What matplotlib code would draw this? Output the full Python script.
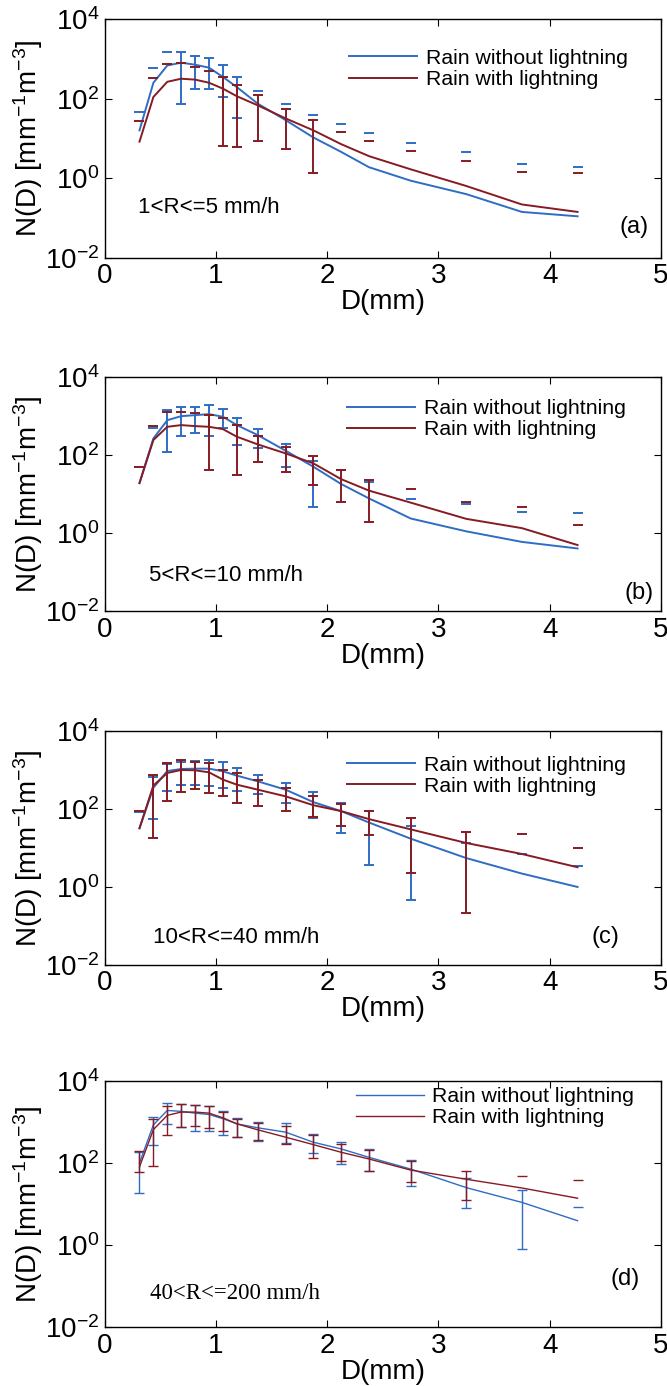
import numpy as np
import matplotlib.pyplot as plt

plt.rcParams["font.family"] = "Liberation Sans"
plt.rcParams["mathtext.fontset"] = "custom"
plt.rcParams["mathtext.rm"] = "Liberation Sans"

nan = np.nan

# drop diameter bins (mm)
D = [0.3125, 0.4375, 0.5625, 0.6875, 0.8125, 0.9375, 1.0625, 1.1875, 1.375,
     1.625, 1.875, 2.125, 2.375, 2.75, 3.25, 3.75, 4.25]

# (a) 1<R<=5 mm/h
a_no = [16, 250, 680, 800, 710, 600, 350, 195, 75, 29, 10.6, 4.6, 1.9, 0.87, 0.4, 0.143, 0.111]
a_no_hi = [45, 600, 1520, 1520, 1170, 1060, 680, 350, 160, 72, 38, 23, 14, 7.8, 4.6, 2.26, 1.97]
a_no_lo = [nan, nan, nan, 75, 178, 171, 110, 32, nan, nan, nan, nan, nan, nan, nan, nan, nan]
a_li = [8.3, 110, 265, 316, 300, 251, 178, 115, 68, 32, 16, 7.2, 3.6, 1.68, 0.64, 0.22, 0.143]
a_li_hi = [27, 330, 724, 780, 620, 492, 348, 224, 121, 56, 29, 14.7, 8.6, 4.9, 2.7, 1.45, 1.36]
a_li_lo = [nan, nan, nan, nan, nan, nan, 6.6, 6.0, 8.6, 5.3, 1.33, nan, nan, nan, nan, nan, nan]

# (b) 5<R<=10 mm/h
b_no = [19, 266, 780, 990, 1050, 1114, 955, 584, 324, 129, 50, 18, 7.7, 2.35, 1.1, 0.59, 0.4]
b_no_hi = [nan, 480, 1410, 1660, 1710, 1900, 1550, 900, 452, 191, 70, 40, 20, 7.3, 5.5, 3.5, 3.3]
b_no_lo = [nan, nan, 122, 311, 357, 300, 480, 180, 148, 48, 4.5, nan, nan, nan, nan, nan, nan]
b_li = [19, 242, 528, 584, 550, 528, 460, 294, 187, 110, 61, 24, 12.2, 6.0, 2.3, 1.33, 0.49]
b_li_hi = [50, 550, 1230, 1270, 1160, 1050, 900, 584, 311, 157, 94, 41, 23, 13.2, 6.3, 4.7, 1.58]
b_li_lo = [nan, nan, nan, nan, nan, 41, nan, 30, 68, 36, 17, 6.3, 1.87, nan, nan, nan, nan]

# (c) 10<R<=40 mm/h
c_no = [32, 350, 940, 1060, 1080, 1080, 925, 716, 512, 313, 150, 88, 45, 17.3, 5.5, 2.2, 1.0]
c_no_hi = [82, 660, 1400, 1600, 1730, 1840, 1570, 1120, 760, 465, 280, 140, 87, 36, 13.4, 7.0, 3.4]
c_no_lo = [nan, 55, 284, 420, 400, 380, 345, 284, 243, 142, 60, 24, 3.7, 0.47, nan, nan, nan]
c_li = [32, 400, 838, 1000, 980, 870, 565, 420, 313, 211, 125, 88, 55, 30, 13.4, 7.0, 3.2]
c_li_hi = [88, 760, 1520, 1770, 1600, 1520, 1020, 835, 565, 345, 210, 137, 91, 59, 25.8, 23, 9.9]
c_li_lo = [nan, 18, 157, 273, 325, 257, 211, 142, 117, 87, 61, 36, 21, 2.3, 0.22, nan, nan]

# (d) 40<R<=200 mm/h
d_no = [100, 850, 1910, 1810, 1640, 1520, 1200, 900, 720, 565, 320, 220, 137, 71, 25, 10.9, 3.9]
d_no_hi = [180, 1310, 2960, 2800, 2600, 2500, 1800, 1250, 980, 935, 512, 333, 220, 120, 42, 22, 8.3]
d_no_lo = [18.4, 280, 870, 760, 585, 585, 485, 430, 350, 300, 172, 95, 62, 27, 7.9, 0.78, nan]
d_li = [80, 650, 1450, 1740, 1740, 1640, 1260, 900, 643, 426, 280, 182, 125, 67, 40, 24.5, 13.8]
d_li_hi = [200, 1200, 2450, 2790, 2530, 2450, 1740, 1200, 955, 775, 468, 292, 210, 114, 65, 49, 39]
d_li_lo = [60, 86, 468, 745, 775, 720, 597, 426, 365, 292, 133, 114, 62, 34, 12.4, nan, nan]

rain_labels = ["1<R<=5 mm/h", "5<R<=10 mm/h", "10<R<=40 mm/h", "40<R<=200 mm/h"]
panel_tags = ["(a)", "(b)", "(c)", "(d)"]

BLUE = "#2f6cc4"
RED = "#861b24"

panels = [
    (a_no, a_no_hi, a_no_lo, a_li, a_li_hi, a_li_lo),
    (b_no, b_no_hi, b_no_lo, b_li, b_li_hi, b_li_lo),
    (c_no, c_no_hi, c_no_lo, c_li, c_li_hi, c_li_lo),
    (d_no, d_no_hi, d_no_lo, d_li, d_li_hi, d_li_lo),
]

# axes boxes in figure fractions [left, bottom, width, height]
boxes = [
    [0.157, 0.8139, 0.834, 0.1724],
    [0.157, 0.5592, 0.834, 0.1688],
    [0.157, 0.3038, 0.834, 0.1688],
    [0.157, 0.0426, 0.834, 0.1775],
]
text_pos = [(0.30, 0.19), (0.40, 0.083), (0.43, 0.05), (0.41, 0.066)]
tag_pos = [(4.76, 0.059), (4.80, 0.029), (4.50, 0.052), (4.68, 0.15)]
leg_anchor = [(0.44, 0.875), (0.436, 0.905), (0.436, 0.895), (0.451, 0.975)]


def draw_bars(ax, x, hi, lo, color, lw):
    x = np.asarray(x)
    hi = np.asarray(hi, float)
    lo = np.asarray(lo, float)
    full = ~np.isnan(hi) & ~np.isnan(lo)
    ax.vlines(x[full], lo[full], hi[full], color=color, lw=lw)
    ax.plot(x, hi, ls="none", marker="_", ms=7, mew=lw, color=color)
    ax.plot(x, lo, ls="none", marker="_", ms=7, mew=lw, color=color)


fig = plt.figure(figsize=(6.67, 13.86), dpi=100)

for i, (no, no_hi, no_lo, li, li_hi, li_lo) in enumerate(panels):
    ax = fig.add_axes(boxes[i])
    lw = 1.0 if i == 3 else 1.4
    ax.plot(D, no, color=BLUE, lw=lw, label="Rain without lightning")
    draw_bars(ax, D, no_hi, no_lo, BLUE, lw)
    ax.plot(D, li, color=RED, lw=lw, label="Rain with lightning")
    draw_bars(ax, D, li_hi, li_lo, RED, lw)

    ax.set_yscale("log")
    ax.set_xlim(0, 5)
    ax.set_ylim(1e-2, 1e4)
    ax.set_xticks([0, 1, 2, 3, 4, 5])
    ax.set_yticks([1e-2, 1, 1e2, 1e4])
    ax.set_yticklabels([r"$\mathregular{10^{-2}}$", r"$\mathregular{10^{0}}$",
                        r"$\mathregular{10^{2}}$", r"$\mathregular{10^{4}}$"])
    ax.minorticks_off()
    ax.tick_params(direction="in", top=True, right=True, length=5,
                   labelsize=20, pad=4)
    for s in ax.spines.values():
        s.set_linewidth(1.0)

    ax.set_xlabel("D(mm)", fontsize=20, labelpad=0)
    ax.set_ylabel(r"N(D) [mm$\mathregular{^{-1}}$m$\mathregular{^{-3}}$]",
                  fontsize=20, labelpad=0)

    if i == 3:
        ax.text(*text_pos[i], rain_labels[i], fontsize=16.5,
                family="Liberation Serif", va="center")
    else:
        ax.text(*text_pos[i], rain_labels[i], fontsize=16, va="center")
    ax.text(*tag_pos[i], panel_tags[i], fontsize=17, ha="center", va="center")

    ax.legend(loc="upper left", bbox_to_anchor=leg_anchor[i], frameon=False,
              fontsize=15.3, handlelength=3.2, handletextpad=0.4,
              labelspacing=0.1, borderpad=0, borderaxespad=0)

fig.savefig("out.png", dpi=100)
